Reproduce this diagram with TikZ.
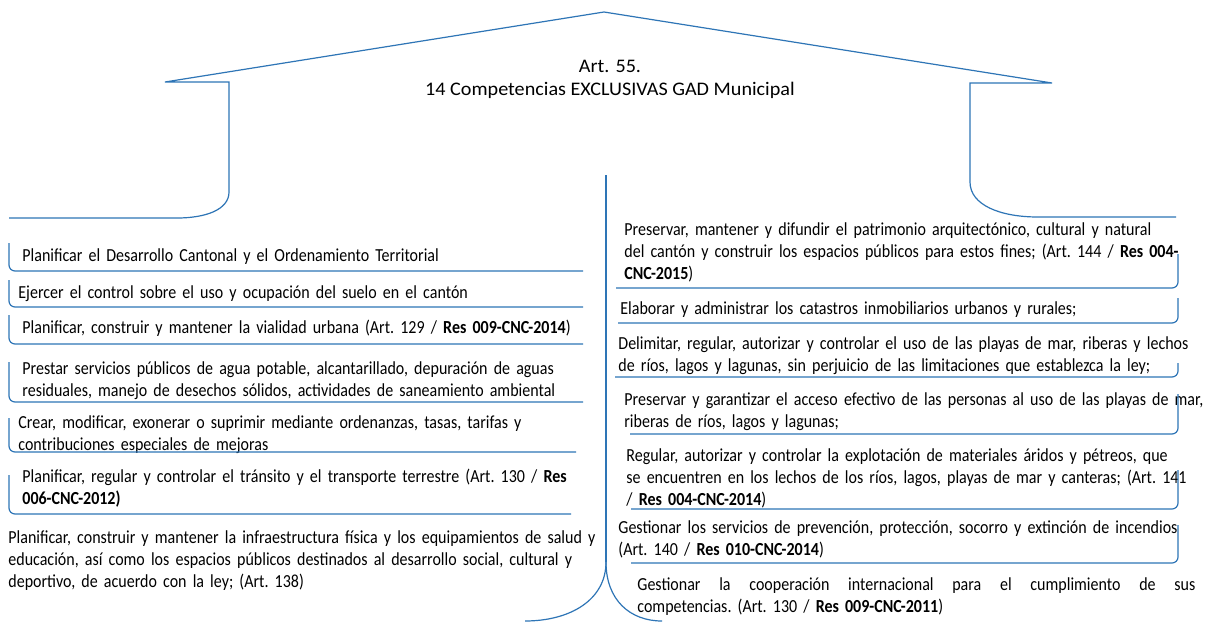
\documentclass[tikz,border=0pt]{standalone}
\usepackage{fontspec}
\setmainfont{Carlito}
\newfontfamily\itemfamily{Carlito}[FakeStretch=0.87]
\newfontfamily\titlefamily{Carlito}[FakeStretch=1.05]
\usepackage{tikz}
\definecolor{lineblue}{RGB}{46,117,182}

\begin{document}
\begin{tikzpicture}
    [
      x=0.5pt, y=-0.5pt,
      item/.style=
        {
          anchor=base west,
          align=left,
          text width=320pt,
          inner sep=0pt,
          font=\itemfamily\fontsize{9.2}{11}\selectfont\frenchspacing,
        },
      heading/.style=
        {
          align=center,
          inner sep=0pt,
          font=\titlefamily\fontsize{9.6}{11.5}\selectfont,
        },
      bracket/.style=
        {
          draw=lineblue,
          line width=0.6pt,
          rounded corners=3pt,
        },
      brace/.style=
        {
          draw=lineblue,
          line width=0.6pt,
        },
    ]
    \useasboundingbox[fill=white] (0,0) rectangle (1208,621);

    % roof over both columns
    \node[heading] (title) at (610,79)
      {Art. 55.\\14 Competencias EXCLUSIVAS GAD Municipal};
    \draw[brace]
      (9,218) -- (177,218)
      .. controls (205,218) and (229,210) .. (229,192)
      -- (229,82) -- (165,82) -- (604,12) -- (1052,83) -- (970,83)
      -- (970,182)
      .. controls (970,205) and (1000,217) .. (1038,217)
      -- (1176,217);

    % middle divider
    \coordinate (split) at (606,562);
    \draw[brace] (606,175) -- (split);
    \draw[brace] (split) .. controls (606,600) and (570,621) .. (525,621);
    \draw[brace] (split) .. controls (606,600) and (630,621) .. (662,621);

    % left column
    \node[item] (l1) at (22,261)
      {Planificar el Desarrollo Cantonal y el Ordenamiento Territorial};
    \node[item] (l2) at (18,298)
      {Ejercer el control sobre el uso y ocupación del suelo en el cantón};
    \node[item] (l3) at (22,333)
      {Planificar, construir y mantener la vialidad urbana (Art. 129 / \textbf{Res 009-CNC-2014})};
    \node[item] (l4) at (22,374)
      {Prestar servicios públicos de agua potable, alcantarillado, depuración de aguas\\
       residuales, manejo de desechos sólidos, actividades de saneamiento ambiental};
    \node[item] (l5) at (18,428)
      {Crear, modificar, exonerar o suprimir mediante ordenanzas, tasas, tarifas y\\
       contribuciones especiales de mejoras};
    \node[item] (l6) at (22,482)
      {Planificar, regular y controlar el tránsito y el transporte terrestre (Art. 130 / \textbf{Res}\\
       \textbf{006-CNC-2012)}};
    \node[item] (l7) at (8,543)
      {Planificar, construir y mantener la infraestructura física y los equipamientos de salud y\\
       educación, así como los espacios públicos destinados al desarrollo social, cultural y\\
       deportivo, de acuerdo con la ley; (Art. 138)};

    \draw[bracket] (9,243) |- (583,271);
    \draw[bracket] (9,280) |- (583,307);
    \draw[bracket] (9,315) |- (583,344);
    \draw[bracket] (9,362) |- (583,402);
    \draw[bracket] (9,418) |- (576,452);
    \draw[bracket] (9,475) |- (571,514);

    % right column
    \node[item] (r1) at (624,235)
      {Preservar, mantener y difundir el patrimonio arquitectónico, cultural y natural\\
       del cantón y construir los espacios públicos para estos fines; (Art. 144 / \textbf{Res 004-}\\
       \textbf{CNC-2015})};
    \node[item] (r2) at (620,314)
      {Elaborar y administrar los catastros inmobiliarios urbanos y rurales;};
    \node[item] (r3) at (618,349)
      {Delimitar, regular, autorizar y controlar el uso de las playas de mar, riberas y lechos\\
       de ríos, lagos y lagunas, sin perjuicio de las limitaciones que establezca la ley;};
    \node[item] (r4) at (624,405)
      {Preservar y garantizar el acceso efectivo de las personas al uso de las playas de mar,\\
       riberas de ríos, lagos y lagunas;};
    \node[item] (r5) at (626,461)
      {Regular, autorizar y controlar la explotación de materiales áridos y pétreos, que\\
       se encuentren en los lechos de los ríos, lagos, playas de mar y canteras; (Art. 141\\
       / \textbf{Res 004-CNC-2014})};
    \node[item] (r6) at (618,533)
      {Gestionar los servicios de prevención, protección, socorro y extinción de incendios\\
       (Art. 140 / \textbf{Res 010-CNC-2014})};
    \node[item] (r7) at (637,590)
      {\hbox to 279pt{Gestionar\hfill la\hfill cooperación\hfill internacional\hfill
       para\hfill el\hfill cumplimiento\hfill de\hfill sus}\\
       competencias. (Art. 130 / \textbf{Res 009-CNC-2011})};

    \draw[bracket] (1178,254) |- (616,288);
    \draw[bracket] (1178,298) |- (618,323);
    \draw[bracket] (1178,363) |- (615,377);
    \draw[bracket] (1178,394) |- (630,434);
    \draw[bracket] (1178,470) |- (631,509);
    \draw[bracket] (1178,525) |- (631,563);
  \end{tikzpicture}
\end{document}
